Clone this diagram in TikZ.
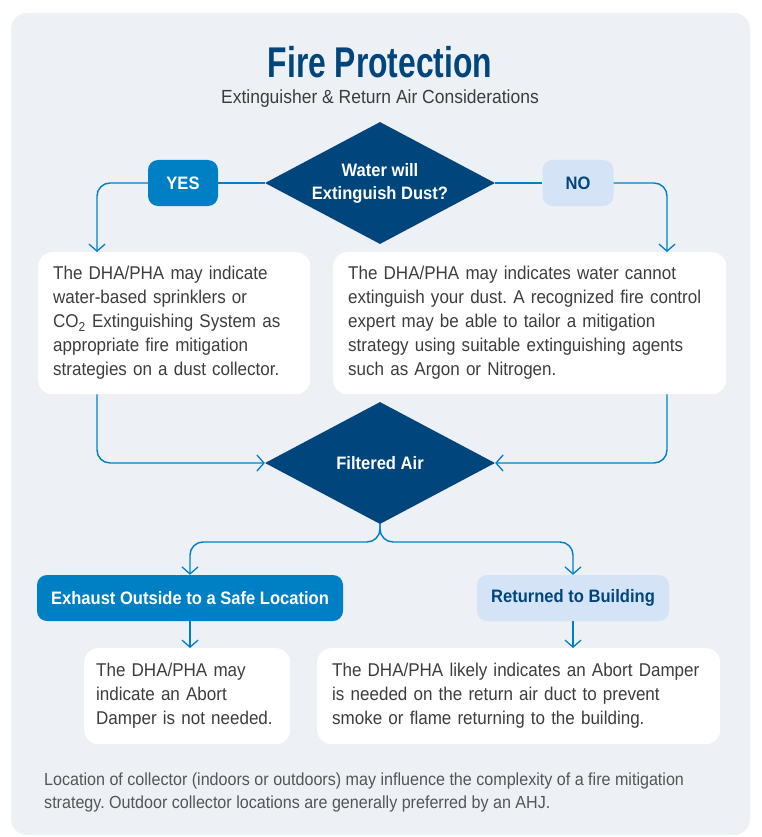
\documentclass[tikz,border=0pt]{standalone}
\usepackage{fontspec}
\setmainfont{Liberation Sans}[FakeStretch=0.92]
\newfontfamily\titlefont{Liberation Sans}[FakeStretch=0.74]
\usepackage{tikz}
\usetikzlibrary{arrows.meta,positioning,shapes.geometric,calc}
\definecolor{navy}{HTML}{00457C}
\definecolor{mblue}{HTML}{0080C4}
\definecolor{lblue}{HTML}{D4E4F6}
\definecolor{bgc}{HTML}{EDF0F4}
\definecolor{txt}{HTML}{3D3D3D}
\definecolor{fgray}{HTML}{555555}
\frenchspacing
\tikzset{
  dia/.style   ={diamond,aspect=1.88,fill=navy,text=white,align=center,inner sep=0pt,
                 minimum width=230pt,minimum height=122pt,
                 font=\bfseries\fontsize{18}{23}\selectfont},
  pilld/.style ={rounded corners=10pt,fill=mblue,text=white,minimum height=46pt,
                 inner xsep=0pt,font=\bfseries\fontsize{18}{20}\selectfont},
  pilll/.style ={rounded corners=10pt,fill=lblue,text=navy,minimum height=46pt,
                 inner xsep=0pt,font=\bfseries\fontsize{18}{20}\selectfont},
  tbox/.style  ={fill=white,rounded corners=14pt,align=left,anchor=north west,
                 inner xsep=15pt,inner ysep=0pt,text=txt,
                 font=\fontsize{18.5}{24}\selectfont},
  ar/.style    ={draw=mblue,line width=1.4pt,rounded corners=13pt,
                 -{Straight Barb[length=7pt,width=16pt,line width=1.3pt]}},
  ln/.style    ={draw=mblue,line width=1.4pt,rounded corners=13pt},
}

\begin{document}
\begin{tikzpicture}[x=1pt,y=-1pt]
\useasboundingbox (0,0) rectangle (762,837);
\fill[bgc,rounded corners=16pt] (11,13) rectangle (750,835);

% headline
\node[text=navy,font=\titlefont\bfseries\fontsize{43}{45}\selectfont] (T) at (380,62) {Fire Protection};
\node[text=txt,font=\fontsize{19}{21}\selectfont] (ST) at (380,99) {Extinguisher \& Return Air Considerations};

% ---- first decision ---------------------------------------------------
\node[dia] (D1) at (380,183) {Water will\\Extinguish Dust?};
\node[pilld,minimum width=70pt] (YES) at (183,183) {YES};
\node[pilll,minimum width=71pt] (NO) at (578,183) {NO};
\coordinate (lx) at (97,0);
\coordinate (rx) at (667,0);

\node[tbox,text width=242pt,minimum height=142pt] (L1) at (38,252)
  {The DHA/PHA may indicate\\water-based sprinklers or\\CO\textsubscript{2} Extinguishing System as\\appropriate fire mitigation\\strategies on a dust collector.};
\node[tbox,text width=363pt,minimum height=142pt] (R1) at (333,252)
  {The DHA/PHA may indicates water cannot\\extinguish your dust. A recognized fire control\\expert may be able to tailor a mitigation\\strategy using suitable extinguishing agents\\such as Argon or Nitrogen.};

% ---- second decision --------------------------------------------------
\node[dia] (D2) at (380,463) {Filtered Air};
\coordinate (sp) at (380,542);

\node[pilld,minimum width=306pt] (EX) at (190,598) {Exhaust Outside to a Safe Location};
\node[pilll,minimum width=192pt] (RB) at (573,598) {Returned to Building};

\node[tbox,text width=182pt,inner xsep=12pt,minimum height=96pt] (B1) at (84,648)
  {The DHA/PHA may\\indicate an Abort\\Damper is not needed.};
\node[tbox,text width=373pt,minimum height=96pt] (B2) at (317,648)
  {The DHA/PHA likely indicates an Abort Damper\\is needed on the return air duct to prevent\\smoke or flame returning to the building.};

\node[text=fgray,align=left,anchor=north west,inner sep=0pt,
      font=\fontsize{17.5}{23}\selectfont] (FN) at (44,773)
  {Location of collector (indoors or outdoors) may influence the complexity of a fire mitigation\\strategy. Outdoor collector locations are generally preferred by an AHJ.};

% ---- edges ------------------------------------------------------------
\draw[ln] (D1.west) -- (YES.east);
\draw[ln] (D1.east) -- (NO.west);
\draw[ar] (YES.west) -| (lx |- L1.north);
\draw[ar] (NO.east) -| (rx |- R1.north);

\draw[ar] (lx |- L1.south) |- (D2.west);
\draw[ar] (rx |- R1.south) |- (D2.east);

\draw[ar] (D2.south) |- (EX.north |- sp) -- (EX.north);
\draw[ar] (D2.south) |- (RB.north |- sp) -- (RB.north);

\draw[ar] (EX.south) -- (EX.south |- B1.north);
\draw[ar] (RB.south) -- (RB.south |- B2.north);
\end{tikzpicture}
\end{document}
